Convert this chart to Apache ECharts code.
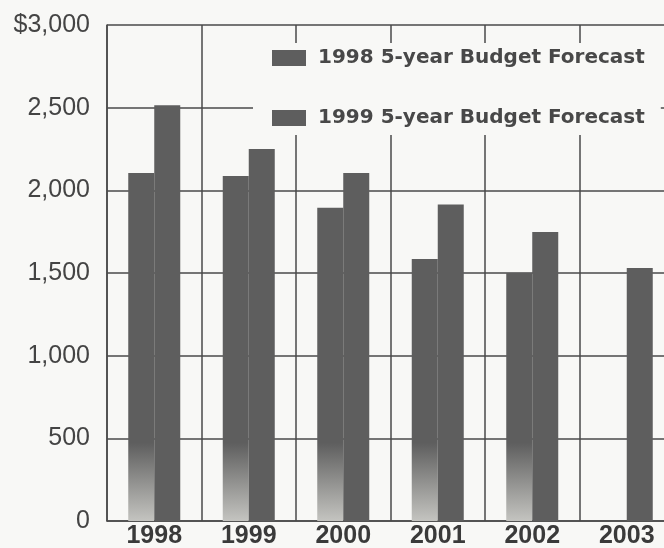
<!DOCTYPE html>
<html lang="en">
<head>
    <meta charset="UTF-8">
    <title>Budget Forecast</title>
    <script src="https://cdn.jsdelivr.net/npm/echarts@6/dist/echarts.min.js"></script>
    <style>
        html, body { margin: 0; padding: 0; background: #f8f8f6; }
        #main { width: 664px; height: 548px; }
    </style>
</head>
<body>
<div id="main"></div>
<script>
    // data (millions of dollars)
    var years = ['1998', '1999', '2000', '2001', '2002', '2003'];
    var forecast1998 = [2105, 2087, 1895, 1585, 1500, null];
    var forecast1999 = [2515, 2250, 2105, 1915, 1748, 1530];
    var yTicks = [0, 500, 1000, 1500, 2000, 2500, 3000];
    var yTickLabels = ['0', '500', '1,000', '1,500', '2,000', '2,500', '$3,000'];

    var gridColor = '#4a4a4a';
    var barColor = '#5e5e5e';

    var myChart = echarts.init(document.getElementById('main'));

    var option = {
        backgroundColor: '#f8f8f6',
        animation: false,
        grid: {
            left: 107,
            top: 25,
            width: 567,
            height: 496,
            outerBoundsMode: 'none'   // plot runs past the right edge of the page
        },
        legend: {
            orient: 'vertical',
            left: 253,
            top: 43,
            padding: [5, 16, 7, 19],
            backgroundColor: '#f8f8f6',
            itemWidth: 34,
            itemHeight: 16,
            itemGap: 40,
            icon: 'rect',
            textStyle: {
                fontFamily: 'DejaVu Sans',
                fontWeight: 'bold',
                fontSize: 20,
                lineHeight: 20,
                color: '#484848',
                padding: [0, 0, 0, 7]
            },
            data: ['1998 5-year Budget Forecast', '1999 5-year Budget Forecast']
        },
        xAxis: {
            type: 'category',
            data: years,
            axisLine: { lineStyle: { color: gridColor, width: 1.5 } },
            axisTick: { show: false },
            splitLine: { show: true, lineStyle: { color: gridColor, width: 1.5 } },
            axisLabel: {
                margin: 3,
                fontFamily: 'Liberation Sans',
                fontWeight: 'bold',
                fontSize: 25,
                lineHeight: 25,
                color: '#3a3a3a'
            }
        },
        yAxis: {
            type: 'value',
            min: 0,
            max: 3000,
            interval: 500,
            axisLine: { show: true, lineStyle: { color: gridColor, width: 1.5 } },
            axisTick: { show: false },
            splitLine: { lineStyle: { color: gridColor, width: 1.5 } },
            axisLabel: {
                margin: 17,
                fontFamily: 'Liberation Sans',
                fontSize: 25,
                color: '#444',
                formatter: function (v) {
                    var i = yTicks.indexOf(v);
                    return i >= 0 ? yTickLabels[i] : '';
                }
            }
        },
        series: [
            {
                name: '1998 5-year Budget Forecast',
                type: 'bar',
                barWidth: 26,
                barGap: '0%',
                data: forecast1998,
                itemStyle: {
                    // halftone fades out near the bottom in the print
                    color: {
                        type: 'linear', x: 0, y: 0, x2: 0, y2: 521, global: true,
                        colorStops: [
                            { offset: 0, color: barColor },
                            { offset: 0.85, color: barColor },
                            { offset: 1, color: '#c4c4c0' }
                        ]
                    }
                }
            },
            {
                name: '1999 5-year Budget Forecast',
                type: 'bar',
                barWidth: 26,
                data: forecast1999,
                itemStyle: { color: barColor }
            }
        ]
    };

    myChart.setOption(option);
</script>
</body>
</html>
